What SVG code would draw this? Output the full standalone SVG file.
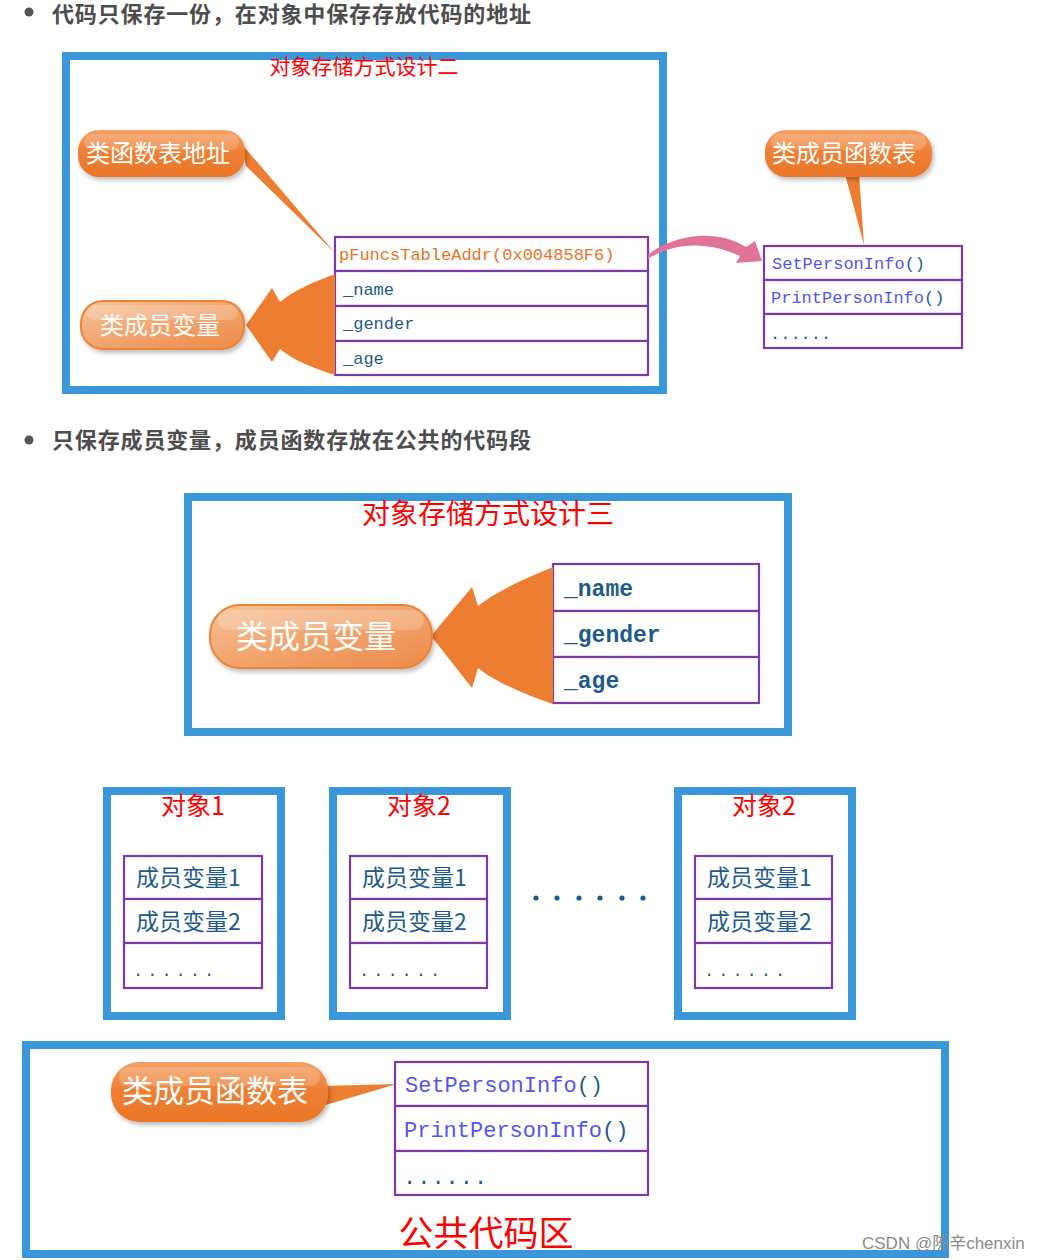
<svg xmlns="http://www.w3.org/2000/svg" width="1047" height="1260" viewBox="0 0 1047 1260">
<defs>
<style>
.bullet{font-family:"Noto Sans CJK SC","Noto Sans",sans-serif;font-weight:bold;font-size:22px;fill:#4d4d4d}
.frame{fill:#ffffff;stroke:#3a98da;stroke-width:8}
.title{font-family:"Noto Sans CJK SC",sans-serif;fill:#ff0000;text-anchor:middle}
.cell{fill:#ffffff;stroke:#7a3aa8;stroke-width:2.2}
.mono{font-family:"Liberation Mono","DejaVu Sans Mono",monospace}
.var{fill:#1f5b8a}
.fn{fill:#5555ee}
.cjk{font-family:"Noto Sans CJK SC",sans-serif;fill:#1f5b8a}
.call{font-family:"Noto Sans CJK SC",sans-serif;fill:#ffffff}
.dark{fill:#ed7d31}
</style>
<linearGradient id="gDark" x1="0" y1="0" x2="0" y2="1">
<stop offset="0" stop-color="#f4a064"/>
<stop offset="0.45" stop-color="#ee8036"/>
<stop offset="1" stop-color="#ea7628"/>
</linearGradient>
<linearGradient id="gLight" x1="0" y1="0" x2="1" y2="1">
<stop offset="0" stop-color="#f7c39a"/>
<stop offset="0.5" stop-color="#f2a46e"/>
<stop offset="1" stop-color="#ec8a48"/>
</linearGradient>
<filter id="sh" x="-10%" y="-10%" width="125%" height="140%">
<feDropShadow dx="2" dy="3" stdDeviation="2" flood-color="#000" flood-opacity="0.25"/>
</filter>
</defs>
<rect width="1047" height="1260" fill="#ffffff"/>

<!-- bullets -->
<g id="bullet1">
<circle cx="29" cy="12" r="4.5" fill="#555"/>
<text class="bullet" x="52" y="21.5" textLength="479" lengthAdjust="spacing">代码只保存一份，在对象中保存存放代码的地址</text>
</g>
<g id="bullet2">
<circle cx="29" cy="440" r="4.5" fill="#555"/>
<text class="bullet" x="52" y="448" textLength="479" lengthAdjust="spacing">只保存成员变量，成员函数存放在公共的代码段</text>
</g>

<!-- Design 2 -->
<g id="design2-frame">
<rect class="frame" x="66" y="56" width="597" height="334"/>
<text class="title" x="364" y="74" font-size="21">对象存储方式设计二</text>
</g>

<g id="table1">
<rect class="cell" x="335" y="237" width="313" height="34"/>
<rect class="cell" x="335" y="271" width="313" height="35"/>
<rect class="cell" x="335" y="306" width="313" height="35"/>
<rect class="cell" x="335" y="341" width="313" height="34"/>
<text class="mono" x="339" y="260" font-size="17" fill="#e8731f">pFuncsTableAddr(0x004858F6)</text>
<text class="mono var" x="343" y="295" font-size="17">_name</text>
<text class="mono var" x="343" y="329" font-size="17">_gender</text>
<text class="mono var" x="343" y="364" font-size="17">_age</text>
</g>

<g id="callout-funcaddr">
<path class="dark" d="M240,142 L335,253 L246,166 Z"/>
<rect x="78" y="130" width="167" height="47" rx="21" fill="url(#gDark)" filter="url(#sh)"/>
<rect x="84" y="134" width="155" height="16" rx="8" fill="#ffffff" opacity="0.18"/>
<text class="call" x="86" y="162" font-size="24">类函数表地址</text>
</g>

<g id="callout-members1">
<path class="dark" d="M335,274 C316,281 294,290 280,302 L272,288 L246,325 L272,362 L280,349 C294,361 316,369 335,375 Z"/>
<rect x="81" y="301" width="163" height="48" rx="22" fill="url(#gLight)" stroke="#ee8236" stroke-width="2" filter="url(#sh)"/>
<rect x="87" y="305" width="151" height="15" rx="7" fill="#ffffff" opacity="0.2"/>
<text class="call" x="100" y="334" font-size="24">类成员变量</text>
</g>

<g id="functable1">
<rect class="cell" x="764" y="246" width="198" height="34"/>
<rect class="cell" x="764" y="280" width="198" height="34"/>
<rect class="cell" x="764" y="314" width="198" height="34"/>
<text class="mono fn" x="772" y="269" font-size="17">SetPersonInfo<tspan class="var">()</tspan></text>
<text class="mono fn" x="771" y="303" font-size="17">PrintPersonInfo<tspan class="var">()</tspan></text>
<text class="mono var" x="770" y="339" font-size="17">......</text>
</g>

<g id="callout-functable1">
<path class="dark" d="M845,174 L864,245 L859,174 Z"/>
<rect x="765" y="130" width="167" height="47" rx="21" fill="url(#gDark)" filter="url(#sh)"/>
<rect x="771" y="134" width="155" height="16" rx="8" fill="#ffffff" opacity="0.18"/>
<text class="call" x="772" y="162" font-size="24">类成员函数表</text>
</g>

<g id="connectors">
<path d="M648,255 C668,238 712,226 746,247 L755,241 L762,261 L736,263 L740,256 C706,240 672,243 648,259 Z" fill="#e07399"/>
</g>

<!-- Design 3 -->
<g id="design3-frame">
<rect class="frame" x="188" y="497" width="600" height="235"/>
<text class="title" x="488" y="524" font-size="28">对象存储方式设计三</text>
</g>

<g id="table2">
<rect class="cell" x="553" y="564" width="206" height="47"/>
<rect class="cell" x="553" y="611" width="206" height="46"/>
<rect class="cell" x="553" y="657" width="206" height="46"/>
<text class="mono var" x="564" y="596" font-size="23" font-weight="bold">_name</text>
<text class="mono var" x="564" y="642" font-size="23" font-weight="bold">_gender</text>
<text class="mono var" x="564" y="688" font-size="23" font-weight="bold">_age</text>
</g>

<g id="callout-members2">
<path class="dark" d="M553,567 C526,578 497,591 478,606 L472,587 L431,636 L472,688 L478,668 C497,683 526,695 553,704 Z"/>
<rect x="210" y="605" width="222" height="63" rx="30" fill="url(#gLight)" stroke="#ee8236" stroke-width="2" filter="url(#sh)"/>
<rect x="218" y="610" width="206" height="20" rx="10" fill="#ffffff" opacity="0.2"/>
<text class="call" x="236" y="648" font-size="32">类成员变量</text>
</g>

<!-- Objects -->
<g id="object1">
<rect class="frame" x="107" y="791" width="174" height="225"/>
<text class="title" x="193" y="815" font-size="25">对象1</text>
<rect class="cell" x="124" y="856" width="138" height="43"/>
<rect class="cell" x="124" y="899" width="138" height="44"/>
<rect class="cell" x="124" y="943" width="138" height="45"/>
<text class="cjk" x="136" y="886" font-size="23">成员变量1</text>
<text class="cjk" x="136" y="930" font-size="23">成员变量2</text>
<text class="mono var" x="133" y="976" font-size="17" letter-spacing="4">......</text>
</g>

<g id="object2">
<rect class="frame" x="333" y="791" width="174" height="225"/>
<text class="title" x="419" y="815" font-size="25">对象2</text>
<rect class="cell" x="350" y="856" width="137" height="43"/>
<rect class="cell" x="350" y="899" width="137" height="44"/>
<rect class="cell" x="350" y="943" width="137" height="45"/>
<text class="cjk" x="362" y="886" font-size="23">成员变量1</text>
<text class="cjk" x="362" y="930" font-size="23">成员变量2</text>
<text class="mono var" x="359" y="976" font-size="17" letter-spacing="4">......</text>
</g>

<g id="ellipsis">
<circle cx="536" cy="898" r="2.6" fill="#1f5b8a"/>
<circle cx="557" cy="898" r="2.6" fill="#1f5b8a"/>
<circle cx="579" cy="898" r="2.6" fill="#1f5b8a"/>
<circle cx="600" cy="898" r="2.6" fill="#1f5b8a"/>
<circle cx="622" cy="898" r="2.6" fill="#1f5b8a"/>
<circle cx="643" cy="898" r="2.6" fill="#1f5b8a"/>
</g>

<g id="object3">
<rect class="frame" x="678" y="791" width="174" height="225"/>
<text class="title" x="764" y="815" font-size="25">对象2</text>
<rect class="cell" x="695" y="856" width="137" height="43"/>
<rect class="cell" x="695" y="899" width="137" height="44"/>
<rect class="cell" x="695" y="943" width="137" height="45"/>
<text class="cjk" x="707" y="886" font-size="23">成员变量1</text>
<text class="cjk" x="707" y="930" font-size="23">成员变量2</text>
<text class="mono var" x="704" y="976" font-size="17" letter-spacing="4">......</text>
</g>

<!-- Common code area -->
<g id="code-area">
<rect class="frame" x="26" y="1045" width="919" height="209"/>
<text class="title" x="486" y="1246" font-size="35">公共代码区</text>
</g>

<g id="functable2">
<rect class="cell" x="395" y="1062" width="253" height="44"/>
<rect class="cell" x="395" y="1106" width="253" height="45"/>
<rect class="cell" x="395" y="1151" width="253" height="44"/>
<text class="mono fn" x="405" y="1092" font-size="22">SetPersonInfo<tspan class="var">()</tspan></text>
<text class="mono fn" x="404" y="1137" font-size="22">PrintPersonInfo<tspan class="var">()</tspan></text>
<text class="mono var" x="403" y="1184" font-size="22" letter-spacing="1">......</text>
</g>

<g id="callout-functable2">
<path class="dark" d="M322,1086 L397,1084 L322,1106 Z"/>
<rect x="111" y="1062" width="217" height="60" rx="28" fill="url(#gDark)" filter="url(#sh)"/>
<rect x="119" y="1067" width="201" height="19" rx="9" fill="#ffffff" opacity="0.18"/>
<text class="call" x="122" y="1102" font-size="31">类成员函数表</text>
</g>

<g id="watermark">
<text x="862" y="1249" font-family="Liberation Sans, Arial, sans-serif" font-size="17" fill="#8a8a8a">CSDN @<tspan font-family="Noto Sans CJK SC, sans-serif">陈辛</tspan>chenxin</text>
</g>
</svg>
